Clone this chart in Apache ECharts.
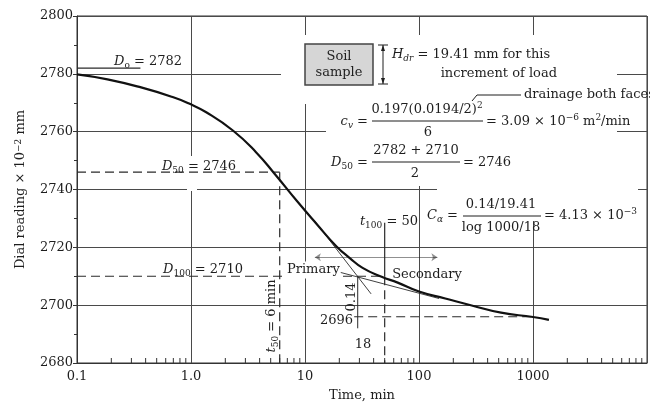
<!DOCTYPE html>
<html><head><meta charset="utf-8">
<script src="https://cdn.jsdelivr.net/npm/echarts@6/dist/echarts.min.js"></script>
<style>html,body{margin:0;padding:0;background:#fff}#c{width:650px;height:407px}</style>
</head><body><div id="c"></div>
<script>
// ---------- data ----------
const curveTime    = [0.1, 0.185, 0.365, 0.7, 0.95, 1.36, 2.33, 3.7, 5.5, 8.5, 12.7, 18.9, 24.7, 32, 47, 65, 100, 170, 290, 525, 1000, 1380];
const curveReading = [2779.8, 2778.1, 2775.3, 2771.9, 2769.8, 2766.7, 2760.4, 2753.0, 2745.1, 2736, 2728, 2720.3, 2716.3, 2712.9, 2709.8, 2707.8, 2704.7, 2702.3, 2699.9, 2697.4, 2695.9, 2694.9];

const d0Time = [0.1, 0.36], d0Reading = [2782, 2782];
const d50Time = [0.1, 6], d50Reading = [2746, 2746];
const t50Time = [6, 6], t50Reading = [2746, 2680];
const d100Time = [0.1, 50], d100Reading = [2710, 2710];
const t100SolidTime = [50, 50], t100SolidReading = [2728.5, 2710];
const t100DashTime = [50, 50], t100DashReading = [2710, 2680];
const primTanTime = [12, 38], primTanReading = [2729.4, 2703.9];
const secTanTime = [19.7, 150], secTanReading = [2711.5, 2702.3];
const dropTime = [29, 29], dropReading = [2710, 2692];
const d2696Time = [27, 1000], d2696Reading = [2696, 2696];
const arrowTime = [12.2, 145], arrowReading = [2716.6, 2716.6];

const xTickValues = [0.1, 1, 10, 100, 1000, 10000];
const xTickLabels = ['0.1', '1.0', '10', '100', '1000', ''];
const minorDecades = [0.1, 1, 10, 100, 1000];
const minorMultipliers = [2, 3, 4, 5, 6, 7, 8, 9];
const yTickLabels = ['2680', '2700', '2720', '2740', '2760', '2780', '2800'];

// ---------- helpers ----------
const zip = (a, b) => a.map((v, i) => [v, b[i]]);
const C = '#1e1e1e';
const F = '"DejaVu Serif", "Liberation Serif", serif';
const FS = 13;
const rich = {
  i:  {fontFamily: F, fontSize: FS, color: C, fontStyle: 'italic', lineHeight: 17},
  s:  {fontFamily: F, fontSize: 9, color: C, lineHeight: 9, verticalAlign: 'bottom'},
  si: {fontFamily: F, fontSize: 9, color: C, fontStyle: 'italic', lineHeight: 9, verticalAlign: 'bottom'},
  p:  {fontFamily: F, fontSize: 9, color: C, lineHeight: 9, verticalAlign: 'top'}
};
function T(x, y, text, align, extra, rot) {
  return {type: 'text', x: x, y: y, z: 10, rotation: rot || 0, silent: true,
    style: Object.assign({text: text, rich: rich, fontFamily: F, fontSize: FS, fill: C,
      align: align || 'left', verticalAlign: 'middle', lineHeight: 17}, extra || {})};
}
function L(x1, y1, x2, y2, w) {
  return {type: 'line', z: 10, silent: true, shape: {x1, y1, x2, y2}, style: {stroke: C, lineWidth: w || 1}};
}
function R(x, y, w, h) {
  return {type: 'rect', z: 1, silent: true, shape: {x: x, y: y, width: w, height: h}, style: {fill: '#fff'}};
}
function refLine(t, r, dashed, w) {
  return {type: 'line', data: zip(t, r), showSymbol: false, symbol: 'none', silent: true, z: 3,
    lineStyle: {color: '#2a2a2a', width: w || 1, type: dashed ? [9, 5] : 'solid'}, animation: false};
}

const minorTickValues = [];
minorDecades.forEach(d => minorMultipliers.forEach(m => minorTickValues.push(d * m)));

const chart = echarts.init(document.getElementById('c'));
chart.setOption({
  animation: false,
  backgroundColor: '#fff',
  grid: {left: 77, top: 16, right: -5, bottom: 40, show: true, borderColor: '#333', borderWidth: 1, backgroundColor: 'transparent'},
  xAxis: {
    type: 'log', logBase: 10, min: 0.1, max: 10000,
    axisLine: {lineStyle: {color: '#333', width: 1}},
    axisTick: {show: false},
    splitLine: {show: true, lineStyle: {color: '#4a4a4a', width: 1}},
    axisLabel: {
      margin: 7, fontFamily: F, fontSize: FS, color: C,
      formatter: v => {
        const i = xTickValues.findIndex(t => Math.abs(Math.log10(t) - Math.log10(v)) < 1e-6);
        return i >= 0 ? xTickLabels[i] : '';
      }
    },
    name: 'Time, min', nameLocation: 'middle', nameGap: 26,
    nameTextStyle: {fontFamily: F, fontSize: FS, color: C}
  },
  yAxis: {
    type: 'value', min: 2680, max: 2800, interval: 20,
    axisLine: {show: true, lineStyle: {color: '#333', width: 1}},
    axisTick: {show: true, length: 4, lineStyle: {color: '#333'}},
    minorTick: {show: true, splitNumber: 2, length: 3, lineStyle: {color: '#333'}},
    splitLine: {show: true, lineStyle: {color: '#4a4a4a', width: 1}},
    axisLabel: {margin: 4, fontFamily: F, fontSize: FS, color: C,
      formatter: v => yTickLabels[Math.round((v - 2680) / 20)] || ''},
    name: 'Dial reading × 10{p|−2} mm', nameLocation: 'middle', nameGap: 50,
    nameTextStyle: {fontFamily: F, fontSize: FS, color: C, rich: rich}
  },
  series: [
    {type: 'line', data: zip(curveTime, curveReading), smooth: 0.5, showSymbol: false, symbol: 'none',
      lineStyle: {color: '#111', width: 2.2}, z: 4, silent: true},
    refLine(d0Time, d0Reading, false, 1.2),
    refLine(d50Time, d50Reading, true, 1.2),
    refLine(t50Time, t50Reading, true, 1.2),
    refLine(d100Time, d100Reading, true, 1.2),
    refLine(t100SolidTime, t100SolidReading, false, 1.2),
    refLine(t100DashTime, t100DashReading, true, 1.2),
    refLine(primTanTime, primTanReading, false, 0.9),
    refLine(secTanTime, secTanReading, false, 0.9),
    refLine(dropTime, dropReading, false, 1),
    refLine(d2696Time, d2696Reading, true, 1.2),
    {type: 'lines', coordinateSystem: 'cartesian2d', silent: true, z: 3,
      data: [{coords: zip(arrowTime, arrowReading)}],
      symbol: ['arrow', 'arrow'], symbolSize: 6,
      lineStyle: {color: '#222', width: 1}},
    {type: 'custom', coordinateSystem: 'cartesian2d', silent: true, clip: false, z: 3,
      data: minorTickValues.map(v => [v, 2680]),
      renderItem: (params, api) => {
        const p = api.coord([api.value(0), api.value(1)]);
        return {type: 'line', shape: {x1: p[0], y1: p[1], x2: p[0], y2: p[1] - 5},
          style: {stroke: '#333', lineWidth: 1}};
      }}
  ],
  graphic: [
    // gaps in the grid behind annotations
    R(281, 35, 336, 69), R(326, 104, 291, 82), R(437, 186, 201, 35), R(187, 156, 10, 35),
    // soil sample box
    {type: 'rect', z: 5, silent: true, shape: {x: 305, y: 44, width: 68, height: 41},
      style: {fill: '#d6d6d6', stroke: '#444', lineWidth: 1.5}},
    T(339, 57, 'Soil', 'center'),
    T(339, 73, 'sample', 'center'),
    L(383, 45, 383, 84), L(378, 45, 388, 45), L(378, 84, 388, 84),
    {type: 'polygon', z: 10, silent: true, shape: {points: [[383, 45], [381, 51], [385, 51]]}, style: {fill: C}},
    {type: 'polygon', z: 10, silent: true, shape: {points: [[383, 84], [381, 78], [385, 78]]}, style: {fill: C}},
    T(392, 55, '{i|H}{si|dr} = 19.41 mm for this', 'left'),
    T(557, 74, 'increment of load', 'right'),
    // drainage note
    {type: 'polyline', z: 10, silent: true, shape: {points: [[472, 101], [477, 95], [521, 95]]}, style: {stroke: C, lineWidth: 1, fill: null}},
    T(524, 95, 'drainage both faces', 'left'),
    // cv formula
    T(368, 122, '{i|c}{si|v} =', 'right'),
    T(427, 110, '0.197(0.0194/2){p|2}', 'center'),
    L(372, 121, 483, 121),
    T(428, 133, '6', 'center'),
    T(486, 122, '= 3.09 × 10{p|−6} m{p|2}/min', 'left'),
    // D50 formula
    T(368, 163, '{i|D}{s|50} =', 'right'),
    T(416, 151, '2782 + 2710', 'center'),
    L(372, 162, 460, 162),
    T(415, 174, '2', 'center'),
    T(463, 163, '= 2746', 'left'),
    // C alpha formula
    T(458, 216, '{i|C}{si|α} =', 'right'),
    T(501, 205, '0.14/19.41', 'center'),
    L(463, 216, 541, 216),
    T(501, 228, 'log 1000/18', 'center'),
    T(544, 216, '= 4.13 × 10{p|−3}', 'left'),
    // curve labels
    T(148, 62, '{i|D}{s|o} = 2782', 'center'),
    T(199, 167, '{i|D}{s|50} = 2746', 'center'),
    T(203, 270, '{i|D}{s|100} = 2710', 'center'),
    T(272, 316, '{i|t}{s|50} = 6 min', 'center', null, Math.PI / 2),
    T(286, 270, 'Primary', 'left', {backgroundColor: '#fff', padding: [0, 1, 0, 1]}),
    T(427, 275, 'Secondary', 'center'),
    T(418, 222, '{i|t}{s|100} = 50', 'right'),
    T(352, 297, '0.14', 'center', null, Math.PI / 2),
    T(353, 321, '2696', 'right'),
    T(363, 345, '18', 'center')
  ]
});
</script>
</body></html>
